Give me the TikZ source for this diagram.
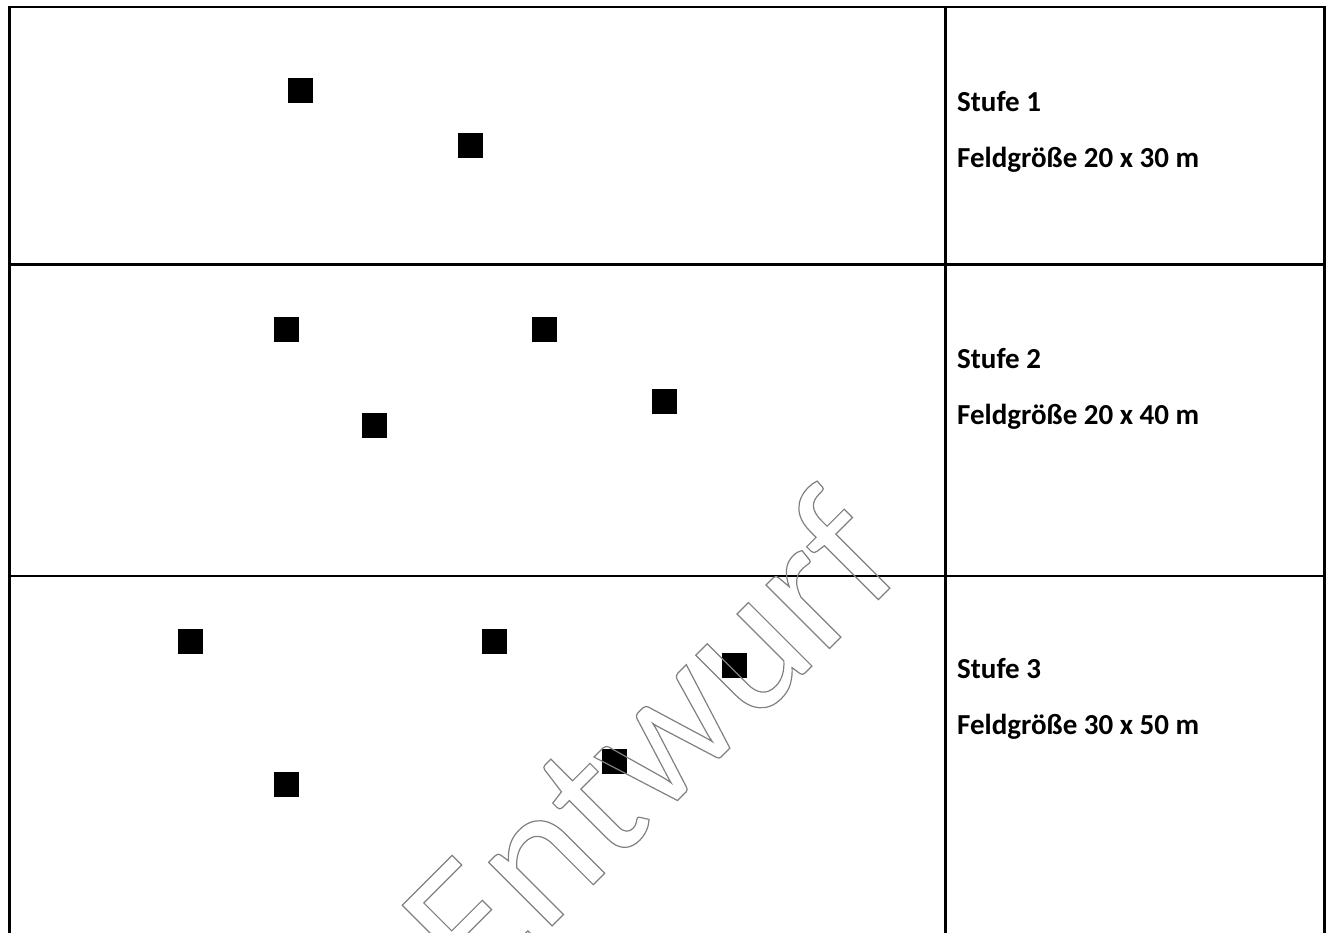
\documentclass[tikz,border=0pt]{standalone}
\usepackage{fontspec}
\setmainfont{Carlito}
\usetikzlibrary{positioning}
\definecolor{wmgray}{RGB}{128,128,128}
\newcommand{\umriss}[1]{\special{pdf:literal direct 1 Tr 1.2 w}#1\special{pdf:literal direct 0 Tr}}

\begin{document}
\begin{tikzpicture}[
  x=1pt, y=-1pt,
  rahmen/.style={draw=black, line width=2.3pt},
  punkt/.style={fill=black, minimum size=25pt, inner sep=0pt},
  stufe/.style={font=\fontsize{29}{34}\selectfont\bfseries, anchor=base west, inner sep=0pt},
  wasserzeichen/.style={font=\fontsize{188}{200}\selectfont, text=wmgray, inner sep=0pt}
]
  \path[use as bounding box, clip] (0,0) rectangle (1327,932);

  % Tabelle
  \draw[rahmen] (9.5,960) -- (9.5,7) -- (1324.5,7) -- (1324.5,960);
  \draw[rahmen] (945.5,7) -- (945.5,960);
  \draw[rahmen] (9.5,264.5) -- (1324.5,264.5);
  \draw[rahmen] (9.5,576) -- (1324.5,576);

  % Stufe 1
  \node[punkt] (p11) at (300,90) {};
  \node[punkt] (p12) at (470,145) {};
  \node[stufe] (st1) at (957,111) {Stufe 1};
  \node[stufe] (fg1) at ([yshift=-56pt]st1.base west) {Feldgröße 20 x 30 m};

  % Stufe 2
  \node[punkt] (p21) at (286,329) {};
  \node[punkt] (p22) at (544,329) {};
  \node[punkt] (p23) at (374,425) {};
  \node[punkt] (p24) at (664,401) {};
  \node[stufe] (st2) at (957,368) {Stufe 2};
  \node[stufe] (fg2) at ([yshift=-56pt]st2.base west) {Feldgröße 20 x 40 m};

  % Stufe 3
  \node[punkt] (p31) at (190,641) {};
  \node[punkt] (p32) at (494,641) {};
  \node[punkt] (p33) at (734,665.5) {};
  \node[punkt] (p34) at (614,761) {};
  \node[punkt] (p35) at (286,784.5) {};
  \node[stufe] (st3) at (957,678) {Stufe 3};
  \node[stufe] (fg3) at ([yshift=-56pt]st3.base west) {Feldgröße 30 x 50 m};

  % Wasserzeichen
  \node[wasserzeichen, rotate=45, anchor=base west] (wz) at (478,1000) {\umriss{Entwurf}};
\end{tikzpicture}
\end{document}
